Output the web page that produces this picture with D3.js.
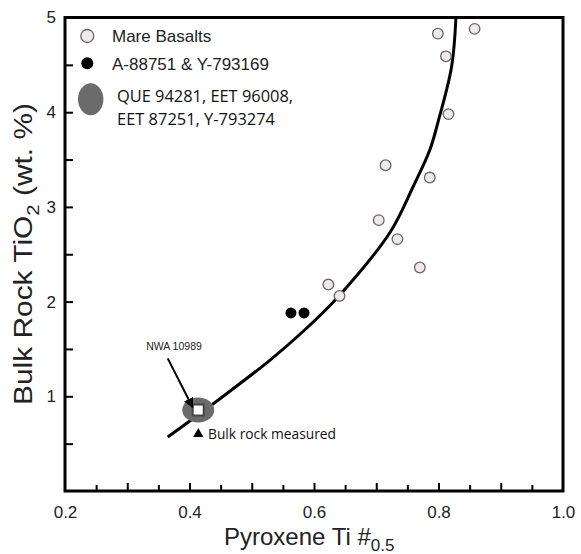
<!DOCTYPE html>
<html>
<head>
<meta charset="utf-8">
<script src="https://cdn.jsdelivr.net/npm/d3@7"></script>
<style>
body { margin: 0; background: #fff; }
text { font-family: "Liberation Sans", Arial, sans-serif; }
.calib { font-family: "Open Sans", sans-serif; }
</style>
</head>
<body>
<div id="chart"></div>
<script>
width = 581
height = 554

// Mare basalts (open circles)
let mareTi = [0.858, 0.799, 0.812, 0.816, 0.715, 0.786, 0.704, 0.734, 0.770, 0.623, 0.641]
let mareTiO2 = [4.88, 4.83, 4.59, 3.98, 3.44, 3.31, 2.86, 2.66, 2.36, 2.18, 2.06]
// A-88751 & Y-793169 (black dots)
let blackTi = [0.563, 0.584]
let blackTiO2 = [1.88, 1.88]
// NWA 10989
let nwaTi = 0.414
let nwaTiO2 = 0.855
// trend curve
let trendTi = [0.365, 0.45, 0.529, 0.585, 0.640, 0.722, 0.759, 0.786, 0.799, 0.821, 0.828]
let trendTiO2 = [0.57, 0.98, 1.38, 1.70, 2.06, 2.73, 3.21, 3.60, 3.89, 4.48, 5.0]
// ticks
let xLabels = [0.2, 0.4, 0.6, 0.8, 1.0]
let yLabels = [1, 2, 3, 4, 5]

let svg = d3.select("#chart")
.append("svg")
.attr("width", width)
.attr("height", height)

let x = d3.scaleLinear().domain([0.2, 1.0]).range([65, 563])
let y = d3.scaleLinear().domain([0, 5]).range([491, 17.5])

// ticks (inward)
let xMinor = d3.range(0.25, 0.99, 0.05).filter(v => Math.abs(v * 10 - Math.round(v * 10)) > 0.01)
let xMajor = d3.range(0.3, 0.99, 0.1)
svg.append("g")
.attr("transform", "translate(0," + y(0) + ")")
.call(d3.axisBottom(x).tickValues(xMinor).tickSize(-6).tickFormat(""))
.call(g => g.select(".domain").remove())
.call(g => g.selectAll("line").attr("stroke-width", 2))
svg.append("g")
.attr("transform", "translate(0," + y(0) + ")")
.call(d3.axisBottom(x).tickValues(xMajor).tickSize(-8).tickFormat(""))
.call(g => g.select(".domain").remove())
.call(g => g.selectAll("line").attr("stroke-width", 2))
svg.append("g")
.attr("transform", "translate(0," + y(0) + ")")
.call(d3.axisBottom(x).tickValues(xLabels).tickSize(0).tickPadding(15).tickFormat(d3.format(".1f")))
.call(g => g.select(".domain").remove())
.call(g => g.selectAll("text").attr("font-size", 17).attr("fill", "#222").attr("font-family", "Liberation Sans, Arial, sans-serif"))

svg.append("g")
.attr("transform", "translate(" + x(0.2) + ",0)")
.call(d3.axisLeft(y).tickValues(d3.range(0.5, 5, 0.5)).tickSize(-8).tickFormat(""))
.call(g => g.select(".domain").remove())
.call(g => g.selectAll("line").attr("stroke-width", 2))
svg.append("g")
.attr("transform", "translate(" + x(0.2) + ",0)")
.call(d3.axisLeft(y).tickValues(yLabels).tickSize(0).tickPadding(9).tickFormat(d3.format("d")))
.call(g => g.select(".domain").remove())
.call(g => g.selectAll("text").attr("font-size", 17).attr("fill", "#222").attr("font-family", "Liberation Sans, Arial, sans-serif"))

// frame
svg.append("rect")
.attr("x", x(0.2))
.attr("y", y(5))
.attr("width", x(1.0) - x(0.2))
.attr("height", y(0) - y(5))
.attr("fill", "none")
.attr("stroke", "#000")
.attr("stroke-width", 3)

// axis titles
svg.append("text")
.attr("x", 224)
.attr("y", 545)
.attr("font-size", 24)
.attr("fill", "#222")
.text("Pyroxene Ti #")
.append("tspan")
.attr("dy", 6)
.attr("font-size", 17)
.text("0.5")

let yTitle = svg.append("text")
.attr("transform", "translate(32," + 254 + ") rotate(-90)")
.attr("text-anchor", "middle")
.attr("font-size", 25)
.attr("fill", "#222")
.attr("textLength", 302)
.attr("lengthAdjust", "spacingAndGlyphs")
yTitle.append("tspan").text("Bulk Rock TiO")
yTitle.append("tspan").attr("dy", 7).attr("font-size", 17).text("2")
yTitle.append("tspan").attr("dy", -7).text(" (wt. %)")

// trend curve
let line = d3.line()
.x(d => x(d[0]))
.y(d => y(d[1]))
.curve(d3.curveCatmullRom.alpha(0.5))
svg.append("path")
.datum(trendTi.map((t, i) => [t, trendTiO2[i]]))
.attr("d", line)
.attr("fill", "none")
.attr("stroke", "#000")
.attr("stroke-width", 3)

// mare basalts
svg.append("g")
.selectAll("circle")
.data(mareTi.map((t, i) => [t, mareTiO2[i]]))
.join("circle")
.attr("cx", d => x(d[0]))
.attr("cy", d => y(d[1]))
.attr("r", 5.3)
.attr("fill", "#efe9ea")
.attr("stroke", "#666")
.attr("stroke-width", 1.3)

// black dots
svg.append("g")
.selectAll("circle")
.data(blackTi.map((t, i) => [t, blackTiO2[i]]))
.join("circle")
.attr("cx", d => x(d[0]))
.attr("cy", d => y(d[1]))
.attr("r", 5.5)
.attr("fill", "#000")

// NWA 10989 region + square
svg.append("ellipse")
.attr("cx", x(nwaTi))
.attr("cy", y(nwaTiO2))
.attr("rx", 16)
.attr("ry", 12.5)
.attr("fill", "#6b6b6b")
svg.append("rect")
.attr("x", x(nwaTi) - 5.5)
.attr("y", y(nwaTiO2) - 5.5)
.attr("width", 11)
.attr("height", 11)
.attr("fill", "#fff")
.attr("stroke", "#444")
.attr("stroke-width", 2)

// arrow
svg.append("defs").append("marker")
.attr("id", "arrowhead")
.attr("viewBox", "0 0 10 10")
.attr("refX", 9)
.attr("refY", 5)
.attr("markerWidth", 5)
.attr("markerHeight", 5)
.attr("orient", "auto")
.append("path")
.attr("d", "M0,0L10,5L0,10z")
.attr("fill", "#000")
svg.append("line")
.attr("x1", x(0.365))
.attr("y1", y(1.40))
.attr("x2", x(0.405))
.attr("y2", y(0.884))
.attr("stroke", "#000")
.attr("stroke-width", 2)
.attr("marker-end", "url(#arrowhead)")
svg.append("text")
.attr("x", 174)
.attr("y", 350)
.attr("text-anchor", "middle")
.attr("font-size", 10.5)
.attr("fill", "#222")
.text("NWA 10989")

// bulk rock measured
svg.append("path")
.attr("d", d3.symbol(d3.symbolTriangle, 45)())
.attr("transform", "translate(198.3,434)")
.attr("fill", "#000")
svg.append("text")
.attr("class", "calib")
.attr("x", 208)
.attr("y", 439)
.attr("font-size", 14)
.attr("textLength", 128)
.attr("lengthAdjust", "spacingAndGlyphs")
.attr("fill", "#111")
.text("Bulk rock measured")

// legend
let legend = svg.append("g")
legend.append("circle")
.attr("cx", 87.3).attr("cy", 36).attr("r", 6.5)
.attr("fill", "#efe9ea").attr("stroke", "#666").attr("stroke-width", 1.3)
legend.append("text")
.attr("x", 112).attr("y", 42)
.attr("font-size", 17).attr("fill", "#222")
.text("Mare Basalts")
legend.append("circle")
.attr("cx", 87.3).attr("cy", 63.3).attr("r", 6)
.attr("fill", "#000")
legend.append("text")
.attr("x", 112).attr("y", 69.5)
.attr("font-size", 17).attr("fill", "#222")
.text("A-88751 & Y-793169")
legend.append("ellipse")
.attr("cx", 90.7).attr("cy", 99.3).attr("rx", 12.7).attr("ry", 16)
.attr("fill", "#6b6b6b")
legend.append("text")
.attr("class", "calib")
.attr("x", 117).attr("y", 101.5)
.attr("font-size", 17).attr("fill", "#111")
.attr("textLength", 176).attr("lengthAdjust", "spacingAndGlyphs")
.text("QUE 94281, EET 96008,")
legend.append("text")
.attr("class", "calib")
.attr("x", 117).attr("y", 124.5)
.attr("font-size", 17).attr("fill", "#111")
.attr("textLength", 158).attr("lengthAdjust", "spacingAndGlyphs")
.text("EET 87251, Y-793274")
</script>
</body>
</html>
